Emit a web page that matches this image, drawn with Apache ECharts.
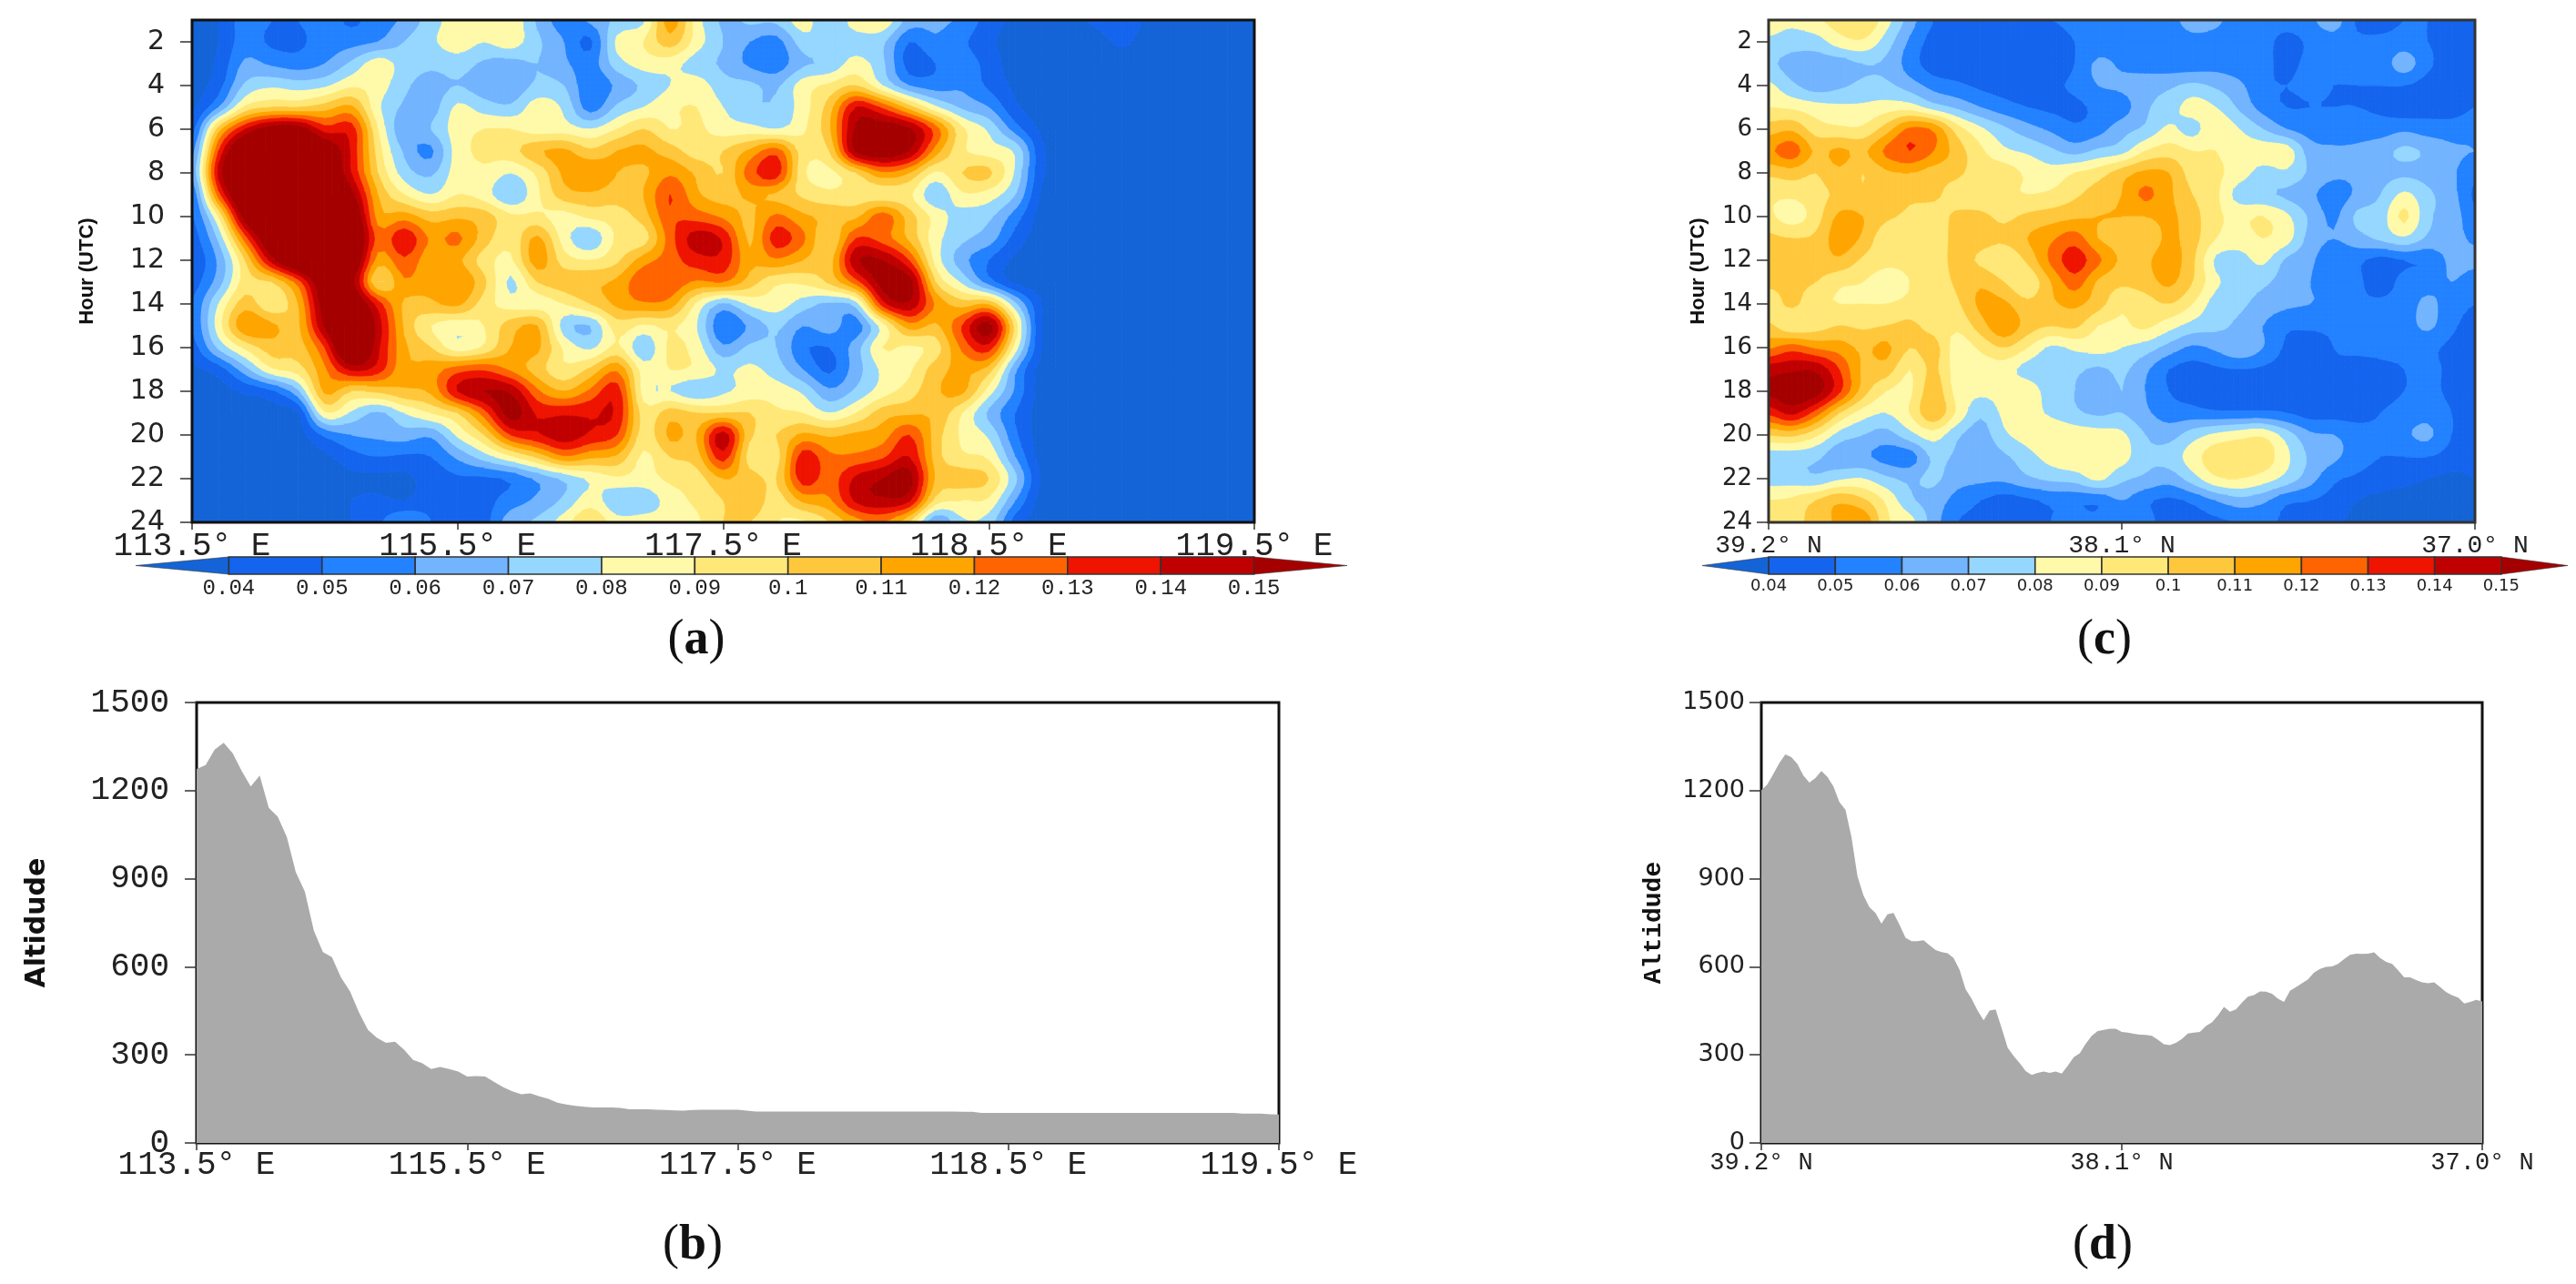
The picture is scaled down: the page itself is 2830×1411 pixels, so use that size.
<!DOCTYPE html>
<html>
<head>
<meta charset="utf-8">
<style>html,body{margin:0;padding:0;background:#fff}#c{width:2830px;height:1411px}</style>
<script src="https://cdn.jsdelivr.net/npm/echarts@6/dist/echarts.min.js"></script>
</head>
<body>
<div id="c"></div>
<script>
// Tick labels
var lonTicks = ['113.5° E','115.5° E','117.5° E','118.5° E','119.5° E'];
var latTicks = ['39.2° N','38.1° N','37.0° N'];
var hourTicks = [2,4,6,8,10,12,14,16,18,20,22,24];
var altTicks = [0,300,600,900,1200,1500];
var barTicks = [0.04,0.05,0.06,0.07,0.08,0.09,0.1,0.11,0.12,0.13,0.14,0.15];
// Contour bands (values in thousandths)
var bandEdges = [0,40,50,60,70,80,90,100,110,120,130,140,150,999];
var bandColors = ['#1464d7','#1464ee','#2382ff','#73b4ff','#96d7ff','#fffaaa','#ffe878','#ffc83c','#ffa500','#ff6400','#ee1400','#c00000','#a50000'];
// Panel (a): rows are hours 1..24, values in thousandths, columns evenly spaced along the axis
var gridA = [
[35,40,55,50,50,55,48,55,62,75,85,85,88,68,55,62,72,78,115,85,68,72,72,85,70,85,88,66,62,58,45,38,35,35,42,48,38,35,35,35,35],
[35,40,55,48,48,55,56,60,70,78,85,80,85,72,60,48,82,90,105,85,70,60,56,75,78,76,72,50,58,52,42,36,35,35,35,42,35,35,35,35,35],
[35,42,62,58,55,60,72,85,75,72,75,68,66,70,62,55,75,84,84,75,68,58,54,68,72,84,72,46,50,55,46,35,35,35,35,35,35,35,35,35,35],
[35,46,72,78,75,78,88,85,72,66,70,64,62,72,70,52,62,72,80,85,74,72,68,85,92,100,80,60,55,58,48,38,35,35,35,35,35,35,35,35,35],
[38,60,92,100,100,105,112,82,68,65,82,75,72,85,78,55,72,80,88,90,80,72,72,85,105,140,128,105,82,68,60,42,35,35,35,35,35,35,35,35,35],
[45,105,140,158,158,135,135,90,62,70,85,90,90,85,85,80,90,100,90,92,85,84,80,88,108,152,158,152,125,92,78,55,38,35,35,35,35,35,35,35,35],
[55,130,175,185,185,165,138,95,68,58,85,92,96,108,112,102,110,112,105,95,100,112,125,95,100,152,160,150,115,92,85,78,42,35,35,35,35,35,35,35,35],
[60,142,185,190,190,170,140,100,75,68,85,88,80,92,112,118,110,108,118,108,100,125,135,92,88,100,118,110,88,100,102,78,42,35,35,35,35,35,35,35,35],
[50,125,175,190,190,185,155,110,90,80,90,85,70,88,105,108,105,110,130,112,105,112,108,98,92,95,94,92,72,88,85,70,38,35,35,35,35,35,35,35,35],
[48,90,158,190,190,190,170,115,115,105,108,105,92,92,86,92,95,105,128,125,118,108,122,112,108,108,125,105,86,75,72,55,36,35,35,35,35,35,35,35,35],
[45,72,125,170,190,190,178,125,138,118,122,105,92,112,85,72,92,95,125,145,138,108,135,122,100,130,125,108,84,72,65,46,35,35,35,35,35,35,35,35,35],
[42,62,100,145,175,190,170,115,128,112,112,95,88,115,95,90,98,115,125,135,136,112,118,110,105,148,150,130,86,64,50,38,35,35,35,35,35,35,35,35,35],
[45,65,95,100,125,165,155,100,118,112,120,102,78,100,105,108,112,128,128,118,120,105,92,92,102,125,155,155,100,78,55,38,35,35,35,35,35,35,35,35,35],
[50,80,105,92,110,158,168,135,108,108,112,95,85,85,90,100,112,118,115,88,68,82,85,75,68,75,135,148,118,105,108,72,40,35,35,35,35,35,35,35,35],
[50,85,118,112,108,152,180,145,108,90,84,90,105,110,75,70,95,88,92,80,50,62,72,60,65,55,85,115,108,130,155,95,40,35,35,35,35,35,35,35,35],
[45,72,92,105,105,130,178,142,112,100,84,92,110,112,88,78,92,72,92,85,62,72,70,52,50,65,90,88,95,122,135,85,40,35,35,35,35,35,35,35,35],
[38,45,66,88,95,118,142,135,112,115,125,128,118,105,92,102,118,85,90,88,78,82,75,60,48,65,82,88,105,112,105,62,36,38,35,35,35,35,35,35,35],
[35,36,42,48,68,112,100,102,108,112,140,150,148,122,110,122,135,85,80,72,78,84,85,78,62,72,85,95,108,112,85,58,36,38,35,35,35,35,35,35,35],
[35,35,35,36,40,88,78,68,80,90,100,125,155,138,138,138,138,95,105,100,100,100,92,90,80,90,105,108,108,90,68,50,35,35,35,35,35,35,35,35,35],
[35,35,35,35,36,52,60,62,65,62,82,100,130,138,146,138,130,95,112,110,145,102,100,112,108,112,115,130,105,88,78,52,35,35,35,35,35,35,35,35,35],
[35,35,35,35,35,38,46,50,48,50,62,75,88,102,118,112,108,88,100,105,135,95,95,135,122,122,128,140,105,92,88,60,36,35,35,35,35,35,35,35,35],
[35,35,35,35,35,35,38,38,38,44,48,48,52,62,72,82,88,86,92,95,110,105,100,135,125,142,150,155,108,105,100,72,38,35,35,35,35,35,35,35,35],
[35,35,35,35,35,36,40,42,40,46,42,46,55,62,72,85,72,72,85,92,100,108,95,112,118,142,148,142,96,90,88,60,36,35,35,35,35,35,35,35,35],
[35,35,35,35,35,38,40,48,60,50,40,46,66,72,85,100,84,85,84,88,100,100,90,88,100,115,120,100,60,78,75,45,36,35,35,35,35,35,35,35,35]
];
// Panel (c)
var gridC = [
[85,82,88,95,100,84,65,50,46,46,48,50,50,52,55,55,50,55,65,62,55,55,55,58,65,48,46,50,50,48,45],
[78,75,75,85,88,75,58,46,44,42,44,44,46,50,52,54,54,54,56,56,54,54,46,52,55,52,52,54,50,46,42],
[72,66,65,65,70,68,55,45,44,44,42,42,44,50,62,58,55,54,54,56,54,52,48,52,52,54,54,65,52,46,44],
[82,72,65,68,72,72,65,56,52,48,46,45,48,52,60,62,66,68,72,68,62,52,50,52,50,50,50,50,46,44,44],
[90,88,84,82,82,85,85,75,68,60,54,50,48,48,52,55,68,75,84,80,68,56,50,50,50,50,48,44,46,45,50],
[105,108,95,92,92,105,122,118,95,82,72,64,58,52,56,66,72,82,76,88,80,70,60,55,52,55,55,58,55,55,56],
[118,125,108,112,108,122,130,120,105,92,82,78,72,66,72,76,90,95,90,90,85,85,85,65,62,62,66,72,68,62,60],
[102,105,100,108,100,108,110,105,102,95,95,88,84,90,95,105,112,110,95,92,85,76,78,68,62,62,66,68,66,62,52],
[92,92,96,102,102,104,102,102,95,93,92,90,92,98,105,110,122,112,100,92,75,72,68,62,55,62,70,82,72,64,48],
[92,85,95,112,110,102,98,95,102,102,98,102,105,108,110,110,110,112,104,92,88,90,82,68,58,72,75,92,72,66,52],
[102,100,102,115,108,92,92,92,104,104,102,110,118,125,110,105,102,112,104,90,85,90,84,66,60,66,72,78,68,64,58],
[100,102,104,108,98,92,92,92,104,98,92,102,122,135,122,108,108,115,102,78,76,82,68,62,52,52,46,50,52,62,62],
[102,102,100,92,90,86,90,92,102,108,100,92,110,125,108,102,105,112,100,82,75,72,65,60,52,52,44,54,56,60,55],
[94,102,92,90,90,90,92,92,98,112,112,102,108,112,104,92,95,100,90,75,72,66,62,60,58,52,52,55,62,55,50],
[102,92,95,100,98,100,102,96,92,105,118,105,100,102,90,88,92,84,76,72,68,60,52,52,52,52,52,55,62,52,46],
[118,125,118,115,108,112,100,104,85,92,100,90,78,82,84,80,75,66,58,62,68,60,48,44,50,52,52,52,52,48,45],
[145,148,148,130,108,105,90,102,85,84,84,76,72,72,68,72,62,50,46,48,50,48,46,46,48,46,48,50,52,48,44],
[152,158,155,132,105,90,88,106,86,82,84,86,74,70,64,70,60,50,46,42,42,42,48,46,44,46,46,50,52,48,44],
[132,142,125,100,85,80,90,108,88,72,82,84,78,72,68,70,62,55,54,52,52,52,50,46,46,46,50,54,56,50,46],
[100,102,92,76,70,66,76,85,72,65,78,84,88,86,84,82,70,66,75,82,86,88,75,62,60,55,52,58,62,50,46],
[74,74,72,64,62,56,55,72,68,62,68,76,84,88,85,84,72,74,85,96,96,96,82,68,62,55,50,50,50,46,44],
[75,75,72,78,80,72,68,72,64,62,62,68,72,74,82,72,68,64,75,88,90,85,76,64,52,48,44,42,40,38,40],
[90,92,100,108,102,88,72,66,56,50,46,48,52,52,52,60,52,48,52,60,66,62,52,50,46,40,38,38,38,38,40],
[90,95,105,112,118,92,84,65,50,48,44,46,50,52,52,52,54,44,46,48,50,52,48,46,42,38,38,38,38,38,40]
];
// Panels (b) and (d): terrain altitude along the section
var altB = [1274,1287,1340,1363,1327,1267,1214,1251,1141,1111,1042,922,856,723,650,633,564,517,445,385,358,341,345,318,283,272,252,259,252,243,226,228,226,208,190,176,166,169,159,150,137,131,126,123,121,121,121,119,115,115,115,113,112,111,110,112,113,113,113,113,113,110,107,107,107,107,107,107,107,107,107,107,107,107,107,107,107,107,107,107,107,107,107,107,107,106,106,102,102,102,102,102,102,102,102,102,102,102,102,102,102,102,102,102,102,102,102,102,102,102,102,102,102,102,102,102,100,100,100,98,97];
var altD = [1201,1221,1257,1294,1323,1314,1291,1251,1227,1243,1267,1247,1214,1161,1135,1042,909,843,803,783,747,779,783,743,699,687,687,690,673,657,650,646,630,590,524,491,451,418,451,455,391,325,296,272,245,232,239,243,239,243,236,263,292,305,338,365,381,385,389,389,378,376,372,369,368,365,352,336,333,341,354,373,376,378,398,411,434,463,447,455,478,498,504,516,515,508,491,480,518,531,544,557,580,593,600,601,610,626,641,645,644,645,649,630,617,610,588,564,564,555,547,544,547,531,514,503,495,475,480,487,482];

var serif = 'Liberation Serif', sans = 'DejaVu Sans', mono = 'Liberation Mono';
var ink = '#222';
var SUB = 4;

function clipPoly(poly, level, keepAbove) {
  var out = [];
  for (var i = 0; i < poly.length; i++) {
    var a = poly[i], b = poly[(i + 1) % poly.length];
    var ina = keepAbove ? a[2] >= level : a[2] < level;
    var inb = keepAbove ? b[2] >= level : b[2] < level;
    if (ina) out.push(a);
    if (ina !== inb) {
      var t = (level - a[2]) / (b[2] - a[2]);
      out.push([a[0] + t * (b[0] - a[0]), a[1] + t * (b[1] - a[1]), level]);
    }
  }
  return out;
}
function cr(p0, p1, p2, p3, t) {
  return 0.5 * (2 * p1 + (p2 - p0) * t + (2 * p0 - 5 * p1 + 4 * p2 - p3) * t * t + (3 * p1 - p0 - 3 * p2 + p3) * t * t * t);
}
// Contour surface through the read grid nodes, as a contouring package draws it
function surface(rows, r, k, tr, tk) {
  var ny = rows.length, nx = rows[0].length, vals = [];
  for (var a = -1; a <= 2; a++) {
    var row = rows[Math.min(ny - 1, Math.max(0, r + a))], c = [];
    for (var b = -1; b <= 2; b++) c.push(row[Math.min(nx - 1, Math.max(0, k + b))]);
    vals.push(cr(c[0], c[1], c[2], c[3], tk));
  }
  return Math.max(1, cr(vals[0], vals[1], vals[2], vals[3], tr));
}
function bandOf(v) {
  for (var b = 0; b < bandColors.length; b++) if (v < bandEdges[b + 1]) return b;
  return bandColors.length - 1;
}
function contourSeries(rows, gridIndex, xSpan) {
  var nx = rows[0].length, data = [];
  for (var r = 0; r < rows.length - 1; r++) {
    for (var k = 0; k < nx - 1; k++) {
      data.push([k * xSpan / (nx - 1), r + 1, (k + 1) * xSpan / (nx - 1), r + 2, r, k]);
    }
  }
  return {
    type: 'custom', xAxisIndex: gridIndex, yAxisIndex: gridIndex, silent: true, clip: true,
    data: data, encode: {x: [0, 2], y: [1, 3]}, animation: false,
    renderItem: function (params, api) {
      var x0 = api.value(0), y0 = api.value(1), x1 = api.value(2), y1 = api.value(3), r = api.value(4), k = api.value(5);
      var a = api.coord([x0, y0]), c = api.coord([x1, y1]);
      var pts = [], i, j, first = null, uniform = true;
      for (j = 0; j <= SUB; j++) {
        pts.push([]);
        for (i = 0; i <= SUB; i++) {
          var v = surface(rows, r, k, j / SUB, i / SUB);
          pts[j].push([a[0] + (c[0] - a[0]) * i / SUB, a[1] + (c[1] - a[1]) * j / SUB, v]);
          var bnd = bandOf(v);
          if (first === null) first = bnd; else if (bnd !== first) uniform = false;
        }
      }
      var children = [];
      function addPoly(poly, b) {
        children.push({type: 'polygon',
          shape: {points: poly.map(function (q) { return [q[0], q[1]]; })},
          style: {fill: bandColors[b], stroke: bandColors[b], lineWidth: 0.8}});
      }
      if (uniform) {
        addPoly([pts[0][0], pts[0][SUB], pts[SUB][SUB], pts[SUB][0]], first);
      } else {
        for (j = 0; j < SUB; j++) for (i = 0; i < SUB; i++) {
          var quad = [pts[j][i], pts[j][i + 1], pts[j + 1][i + 1], pts[j + 1][i]];
          for (var b = 0; b < bandColors.length; b++) {
            var poly = clipPoly(quad, bandEdges[b], true);
            if (poly.length) poly = clipPoly(poly, bandEdges[b + 1], false);
            if (poly.length >= 3) addPoly(poly, b);
          }
        }
      }
      return {type: 'group', children: children};
    }
  };
}
function barSeries(gridIndex) {
  var data = bandColors.map(function (c, i) { return [i === 0 ? 0.03 : bandEdges[i] / 1000, i === bandColors.length - 1 ? 0.16 : bandEdges[i + 1] / 1000, i]; });
  return {
    type: 'custom', xAxisIndex: gridIndex, yAxisIndex: gridIndex, silent: true, animation: false,
    data: data, encode: {x: [0, 1]},
    renderItem: function (params, api) {
      var i = api.value(2);
      var a = api.coord([api.value(0), 0]), b = api.coord([api.value(1), 1]);
      var mid = (a[1] + b[1]) / 2;
      if (i === 0) return {type: 'polygon', shape: {points: [[a[0], mid], [b[0], b[1]], [b[0], a[1]]]}, style: {fill: bandColors[i], stroke: '#333', lineWidth: 0.6}};
      if (i === bandColors.length - 1) return {type: 'polygon', shape: {points: [[a[0], b[1]], [b[0], mid], [a[0], a[1]]]}, style: {fill: bandColors[i], stroke: '#333', lineWidth: 0.6}};
      return {type: 'rect', shape: {x: a[0], y: b[1], width: b[0] - a[0], height: a[1] - b[1]}, style: {fill: bandColors[i], stroke: '#333', lineWidth: 1.6}};
    }
  };
}
function areaSeries(values, gridIndex, xSpan) {
  return {
    type: 'line', xAxisIndex: gridIndex, yAxisIndex: gridIndex, showSymbol: false, silent: true, animation: false,
    data: values.map(function (v, i) { return [i * xSpan / (values.length - 1), v]; }),
    lineStyle: {width: 0}, areaStyle: {color: '#aaaaaa', opacity: 1}
  };
}
function catAxis(gridIndex, labels, font, size, margin) {
  return {
    type: 'value', gridIndex: gridIndex, min: 0, max: labels.length - 1, interval: 1, position: 'bottom',
    splitLine: {show: false},
    axisLine: {show: true, onZero: false, lineStyle: {color: '#111', width: 2}},
    axisTick: {show: true, length: 8, lineStyle: {color: '#333', width: 1.5}},
    axisLabel: {fontFamily: font, fontSize: size, color: ink, margin: margin,
      formatter: function (v) { return labels[Math.round(v)]; }}
  };
}
function hourAxis(gridIndex, name, size, margin, nameGap) {
  return {
    type: 'value', gridIndex: gridIndex, min: 1, max: 24, inverse: true,
    splitLine: {show: false},
    axisLine: {show: true, onZero: false, lineStyle: {color: '#111', width: 2}},
    axisTick: {show: true, length: 13, customValues: hourTicks, lineStyle: {color: '#333', width: 1.5}},
    axisLabel: {fontFamily: sans, fontSize: size, color: ink, margin: margin, customValues: hourTicks},
    name: name, nameLocation: 'middle', nameGap: nameGap, nameRotate: 90,
    nameTextStyle: {fontFamily: 'Liberation Sans', fontWeight: 'bold', fontSize: 22, color: '#111'}
  };
}
function altAxis(gridIndex, font, size, margin, nameFont, nameSize, nameGap) {
  return {
    type: 'value', gridIndex: gridIndex, min: altTicks[0], max: altTicks[altTicks.length - 1], interval: 300,
    splitLine: {show: false},
    axisLine: {show: true, onZero: false, lineStyle: {color: '#111', width: 2}},
    axisTick: {show: true, length: 13, lineStyle: {color: '#333', width: 1.5}},
    axisLabel: {fontFamily: font, fontSize: size, color: ink, margin: margin, formatter: function (v) { return String(v); }},
    name: 'Altidude', nameLocation: 'middle', nameGap: nameGap, nameRotate: 90,
    nameTextStyle: {fontFamily: nameFont, fontWeight: 'bold', fontSize: nameSize, color: '#111'}
  };
}
function barXAxis(gridIndex, font, size) {
  return {
    type: 'value', gridIndex: gridIndex, min: 0.03, max: 0.16, position: 'bottom',
    splitLine: {show: false}, axisLine: {show: false}, axisTick: {show: false},
    axisLabel: {fontFamily: font, fontSize: size, color: ink, margin: 4, customValues: barTicks}
  };
}
function barYAxis(gridIndex) {
  return {type: 'value', gridIndex: gridIndex, min: 0, max: 1, show: false};
}
function caption(letter, cx, top) {
  return {
    text: '{p|(}{b|' + letter + '}{p|)}', left: cx, top: top, textAlign: 'center',
    textStyle: {fontWeight: 'normal', rich: {
      p: {fontFamily: serif, fontSize: 54, fontWeight: 'normal', color: '#111'},
      b: {fontFamily: serif, fontSize: 54, fontWeight: 'bold', color: '#111'}
    }}
  };
}

var option = {
  backgroundColor: '#fff',
  animation: false,
  title: [caption('a', 760, 672), caption('b', 756, 1337), caption('c', 2307, 672), caption('d', 2305, 1337)],
  grid: [
    {left: 211, top: 22, width: 1167, height: 552, show: true, z: 10, backgroundColor: 'transparent', borderColor: '#111', borderWidth: 3},
    {left: 216, top: 772, width: 1189, height: 484, show: true, backgroundColor: 'transparent', borderColor: '#111', borderWidth: 3},
    {left: 1943, top: 22, width: 776, height: 552, show: true, z: 10, backgroundColor: 'transparent', borderColor: '#333', borderWidth: 3},
    {left: 1935, top: 772, width: 792, height: 484, show: true, backgroundColor: 'transparent', borderColor: '#111', borderWidth: 3},
    {left: 149, top: 612, width: 1331, height: 19},
    {left: 1870, top: 612, width: 951, height: 19}
  ],
  xAxis: [
    catAxis(0, lonTicks, mono, 36, 8),
    catAxis(1, lonTicks, mono, 36, 6),
    catAxis(2, latTicks, mono, 28, 12),
    catAxis(3, latTicks, mono, 27, 8),
    barXAxis(4, mono, 24),
    barXAxis(5, sans, 18)
  ],
  yAxis: [
    hourAxis(0, 'Hour (UTC)', 30, 30, 104),
    altAxis(1, mono, 36, 30, sans, 30, 160),
    hourAxis(2, 'Hour (UTC)', 26, 18, 66),
    altAxis(3, sans, 27, 18, mono, 28, 104),
    barYAxis(4),
    barYAxis(5)
  ],
  series: [
    contourSeries(gridA, 0, lonTicks.length - 1),
    areaSeries(altB, 1, lonTicks.length - 1),
    contourSeries(gridC, 2, latTicks.length - 1),
    areaSeries(altD, 3, latTicks.length - 1),
    barSeries(4),
    barSeries(5)
  ]
};
echarts.init(document.getElementById('c')).setOption(option);
</script>
</body>
</html>
